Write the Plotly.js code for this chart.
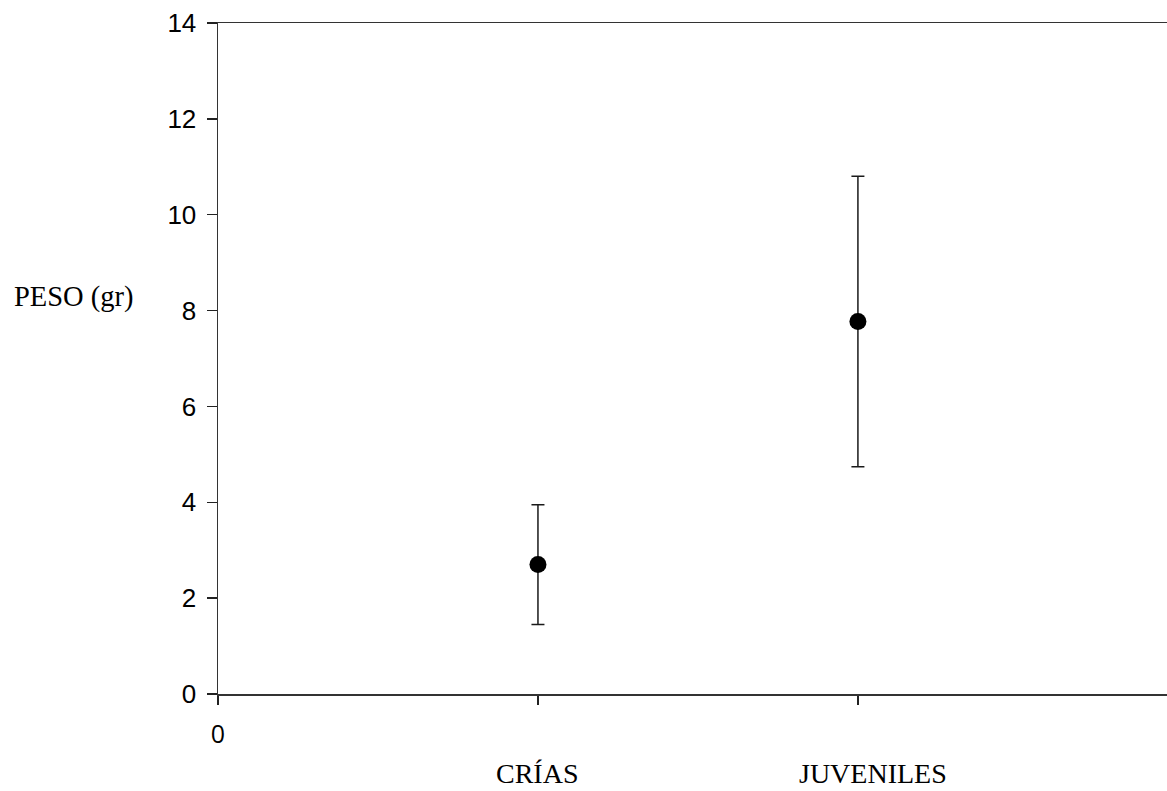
<!DOCTYPE html>
<html>
<head>
<meta charset="utf-8">
<script src="https://cdn.plot.ly/plotly-3.0.1.min.js"></script>
<style>
  html, body { margin: 0; padding: 0; background: #fff; }
  #chart { width: 1167px; height: 791px; }
</style>
</head>
<body>
<div id="chart"></div>
<script>
// Weight by age group: mean with error bars
const categories = ["CRÍAS", "JUVENILES"];
const positions = [1, 2];
const meanWeight = [2.70, 7.77];
const errWeight = [1.25, 3.03];
const yTicks = [0, 2, 4, 6, 8, 10, 12, 14];
const xTickVals = [0, 1, 2];
const xTickText = ["0", "", ""];

const trace = {
  type: "scatter",
  mode: "markers",
  x: positions,
  y: meanWeight,
  marker: { color: "#000", size: 17 },
  error_y: {
    type: "data",
    array: errWeight,
    visible: true,
    color: "#1a1a1a",
    thickness: 1.5,
    width: 6.5
  },
  hoverinfo: "skip",
  showlegend: false
};

const serif = "'Liberation Serif', 'Times New Roman', serif";

const annotations = categories.map((c, i) => ({
  text: c,
  x: positions[i],
  xref: "x",
  xshift: i === 1 ? 15 : -1,
  y: -0.1425,
  yref: "paper",
  xanchor: "center",
  yanchor: "bottom",
  borderpad: 0,
  showarrow: false,
  font: { family: serif, size: 28, color: "#000" }
}));

annotations.push({
  text: "PESO (gr)",
  x: 0,
  xref: "paper",
  xshift: -82,
  y: 0.592,
  yref: "paper",
  xanchor: "right",
  yanchor: "middle",
  showarrow: false,
  font: { family: serif, size: 28.5, color: "#000" }
});

const layout = {
  width: 1167,
  height: 791,
  margin: { l: 218, r: 0, t: 23, b: 97 },
  paper_bgcolor: "#fff",
  plot_bgcolor: "#fff",
  xaxis: {
    range: [0, 2.966],
    tickmode: "array",
    tickvals: xTickVals,
    ticktext: xTickText,
    ticks: "outside",
    ticklen: 9,
    tickwidth: 1.5,
    tickcolor: "#222",
    ticklabelstandoff: 8,
    showline: true,
    linecolor: "#333",
    linewidth: 1.5,
    mirror: true,
    showgrid: false,
    zeroline: false,
    tickfont: { family: "'Open Sans', sans-serif", size: 25, color: "#000" }
  },
  yaxis: {
    range: [0, 14],
    tickmode: "array",
    tickvals: yTicks,
    ticks: "outside",
    ticklen: 10,
    tickwidth: 1.5,
    tickcolor: "#222",
    ticklabelstandoff: 5,
    showline: true,
    linecolor: "#333",
    linewidth: 1.5,
    showgrid: false,
    zeroline: false,
    tickfont: { family: "'Liberation Sans', Arial, sans-serif", size: 26, color: "#000" }
  },
  annotations: annotations
};

Plotly.newPlot("chart", [trace], layout, { displayModeBar: false, staticPlot: true });
</script>
</body>
</html>
